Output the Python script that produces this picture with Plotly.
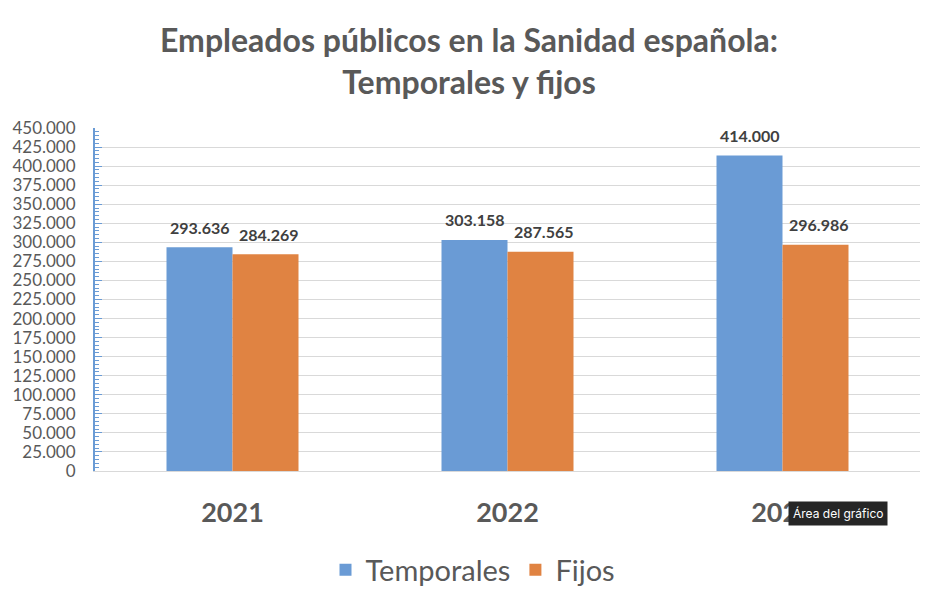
import plotly.graph_objects as go

years = ["2021", "2022", "2023"]
temporales = [293636, 303158, 414000]
fijos = [284269, 287565, 296986]
y_ticks = list(range(0, 450001, 25000))

blue = "rgb(106,155,213)"
orange = "rgb(224,131,66)"
txt = "#595959"
font_family = "Lato, 'Open Sans', sans-serif"

fig = go.Figure()
fig.add_trace(go.Bar(name="Temporales", x=years, y=temporales, marker_color=blue,
                     marker_line_width=0))
fig.add_trace(go.Bar(name="Fijos", x=years, y=fijos, marker_color=orange,
                     marker_line_width=0))

def fmt(v):
    return f"{v:,}".replace(",", ".")

for i, yr in enumerate(years):
    fig.add_annotation(x=i, y=temporales[i], text="<b>%s</b>" % fmt(temporales[i]),
                       showarrow=False, xshift=-33, yshift=20,
                       font=dict(size=16, color="#404040", family=font_family))
    fig.add_annotation(x=i, y=fijos[i], text="<b>%s</b>" % fmt(fijos[i]),
                       showarrow=False, xshift=36, yshift=20,
                       font=dict(size=16, color="#404040", family=font_family))

fig.add_annotation(xref="paper", yref="paper", x=(788 - 93) / 827, y=-(513 - 471) / 343,
                   xanchor="left", yanchor="middle", text="Área del gráfico",
                   showarrow=False, bgcolor="#262626", borderpad=4,
                   font=dict(size=12, color="white", family="Inter, sans-serif"))

fig.update_layout(
    width=938, height=600,
    margin=dict(l=93, r=18, t=128, b=129),
    paper_bgcolor="white", plot_bgcolor="white",
    separators=",.",
    barmode="group", bargap=0.52, bargroupgap=0,
    title=dict(text="<b>Empleados públicos en la Sanidad española:<br>Temporales y fijos</b>",
               x=0.5, xanchor="center", y=1 - 52 / 600, yanchor="middle",
               font=dict(size=32, color=txt, family=font_family)),
    legend=dict(orientation="h", xref="container", x=473 / 938, xanchor="center",
                yref="container", y=1 - 570 / 600, yanchor="middle",
                font=dict(size=29, color=txt, family=font_family), itemwidth=30,
                traceorder="normal"),
    showlegend=True,
)
fig.update_xaxes(type="category", showgrid=False, showline=True, linecolor="#d9d9d9", linewidth=1,
                 tickfont=dict(size=27, color=txt, family=font_family),
                 ticklabelstandoff=18, tickprefix="<b>", ticksuffix="</b>")
fig.update_yaxes(range=[0, 450000], tickvals=y_ticks, tickformat=",d",
                 showgrid=True, gridcolor="#d9d9d9", gridwidth=1,
                 showline=True, linecolor=blue, linewidth=2,
                 ticks="inside", ticklen=7, tickcolor=blue, tickwidth=1,
                 minor=dict(dtick=5000, ticks="inside", ticklen=4, tickcolor=blue,
                            showgrid=False),
                 tickfont=dict(size=17, color=txt, family=font_family),
                 ticklabelstandoff=14, zeroline=False)

fig.write_html("out.html")
